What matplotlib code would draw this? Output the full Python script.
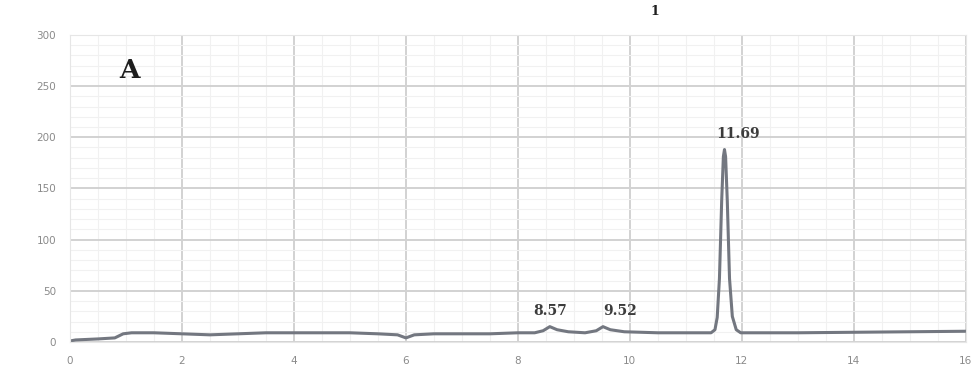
import matplotlib.pyplot as plt
from matplotlib.ticker import MultipleLocator

# retention time (min) and detector signal
time = [0.0, 0.1, 0.5, 0.8, 0.95, 1.1, 1.5, 2.0, 2.5, 3.0, 3.5, 4.0, 4.5,
        5.0, 5.5, 5.85, 6.0, 6.15, 6.5, 7.0, 7.5, 8.0, 8.3, 8.45, 8.57,
        8.7, 8.9, 9.2, 9.4, 9.52, 9.65, 9.9, 10.5, 11.0, 11.45, 11.52,
        11.56, 11.60, 11.64, 11.67, 11.69, 11.71, 11.74, 11.78, 11.83,
        11.90, 11.98, 13.0, 14.0, 15.0, 16.0]
signal = [1, 2, 3, 4, 8, 9, 9, 8, 7, 8, 9, 9, 9,
          9, 8, 7, 4, 7, 8, 8, 8, 9, 9, 11, 15,
          12, 10, 9, 11, 15, 12, 10, 9, 9, 9, 12,
          24, 62, 138, 181, 188, 181, 138, 62, 25,
          12, 9, 9, 9.5, 10, 10.5]

peak_times = [8.57, 9.52, 11.69]
peak_heights = [15, 15, 188]
peak_offsets = [(0, 6), (12, 6), (10, 6)]

xticks = [0, 2, 4, 6, 8, 10, 12, 14, 16]
yticks = [0, 50, 100, 150, 200, 250, 300]

fig = plt.figure(figsize=(9.79, 3.75), dpi=100)
ax = fig.add_axes([0.0715, 0.088, 0.915, 0.819])

ax.plot(time, signal, color='#737780', lw=2.2, solid_joinstyle='round')

for t, h, off in zip(peak_times, peak_heights, peak_offsets):
    ax.annotate(f'{t:.2f}', xy=(t, h), xytext=off, textcoords='offset points',
                ha='center', va='bottom', fontsize=10, fontweight='bold',
                color='#3c3c3c', family='DejaVu Serif')

ax.text(1.07, 265, 'A', fontsize=19, fontweight='bold', color='#1e1e1e',
        ha='center', va='center', family='DejaVu Serif')

# grid: darker major lines, faint minor lines
ax.set_xlim(0, 16)
ax.set_ylim(0, 300)
ax.set_xticks(xticks)
ax.set_yticks(yticks)
ax.xaxis.set_minor_locator(MultipleLocator(0.5))
ax.yaxis.set_minor_locator(MultipleLocator(10))
ax.grid(which='major', color='#d2d2d2', lw=1.4)
ax.grid(which='minor', color='#f1f1f1', lw=0.8)
ax.set_axisbelow(True)

for s in ax.spines.values():
    s.set_color('#e6e6e6')
ax.tick_params(which='both', length=0)
ax.tick_params(labelsize=7.5, labelcolor='#8a8a8a', pad=10)

# small heading mark above the plot
fig.text(655 / 979, 1 - 15 / 375, '1', fontsize=9, fontweight='bold',
         ha='center', va='baseline', color='#1e1e1e', family='DejaVu Serif')

fig.savefig('out.png', dpi=100)
